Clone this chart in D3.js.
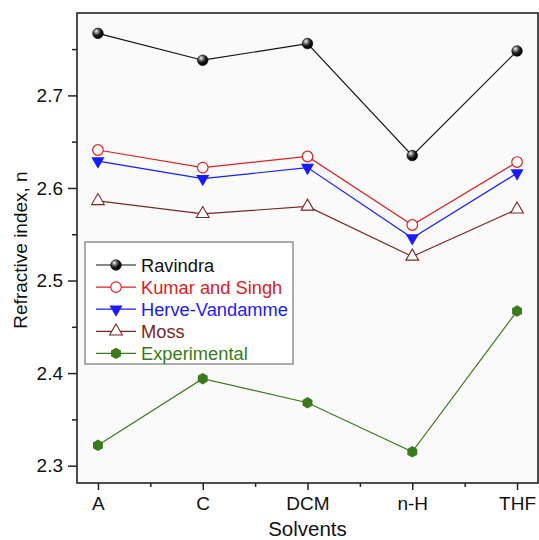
<!DOCTYPE html>
<html>
<head>
<meta charset="utf-8">
<script src="https://cdn.jsdelivr.net/npm/d3@7"></script>
<style>
  html, body { margin: 0; padding: 0; background: #fff; }
  svg { display: block; font-family: "Liberation Sans", Arial, sans-serif; }
</style>
</head>
<body>
<svg id="chart" width="539" height="540"></svg>
<script>
// Solvents on the x axis
const solvents = ["A", "C", "DCM", "n-H", "THF"];

// Refractive index estimated by each model, plus measured values
const ravindra     = [2.767, 2.738, 2.756, 2.635, 2.748];
const kumarSingh   = [2.641, 2.622, 2.634, 2.560, 2.628];
const herveVandamme = [2.629, 2.610, 2.622, 2.546, 2.616];
const moss         = [2.586, 2.572, 2.580, 2.526, 2.577];
const experimental = [2.322, 2.394, 2.368, 2.315, 2.467];

const yTicks = [2.3, 2.4, 2.5, 2.6, 2.7];
const yMinorTicks = [2.35, 2.45, 2.55, 2.65, 2.75];

const seriesNames = ["Ravindra", "Kumar and Singh", "Herve-Vandamme", "Moss", "Experimental"];
const seriesValues = [ravindra, kumarSingh, herveVandamme, moss, experimental];
const seriesColors = ["#111111", "#e02020", "#1a1aff", "#7a2626", "#3b7a1a"];
const seriesMarkers = ["ball", "openCircle", "downTriangle", "openTriangle", "hexagon"];

const svg = d3.select("#chart");
const plot = { left: 77, right: 538, top: 13, bottom: 483 };

const x = d3.scaleLinear().domain([-0.2, 4.2]).range([plot.left, plot.right]);
const y = d3.scaleLinear().domain([2.2813, 2.789]).range([plot.bottom, plot.top]);

// shaded sphere gradient
const defs = svg.append("defs");
const grad = defs.append("radialGradient").attr("id", "ball")
  .attr("cx", "0.35").attr("cy", "0.3").attr("r", "0.7");
grad.append("stop").attr("offset", "0").attr("stop-color", "#ffffff");
grad.append("stop").attr("offset", "0.25").attr("stop-color", "#8a8a8a");
grad.append("stop").attr("offset", "0.6").attr("stop-color", "#1a1a1a");
grad.append("stop").attr("offset", "1").attr("stop-color", "#000000");

// plot background
svg.append("rect")
  .attr("x", plot.left).attr("y", plot.top)
  .attr("width", plot.right - plot.left).attr("height", plot.bottom - plot.top)
  .attr("fill", "#fafafa");

const hexagon = {
  draw(ctx, size) {
    const r = Math.sqrt(size / (1.5 * Math.sqrt(3)));
    for (let i = 0; i < 6; i++) {
      const a = Math.PI / 3 * i - Math.PI / 2;
      const px = r * Math.cos(a), py = r * Math.sin(a);
      if (i === 0) ctx.moveTo(px, py); else ctx.lineTo(px, py);
    }
    ctx.closePath();
  }
};

function drawMarker(g, kind, color, cx, cy) {
  const t = `translate(${cx},${cy})`;
  if (kind === "ball") {
    g.append("circle").attr("cx", cx).attr("cy", cy).attr("r", 5.3)
      .attr("fill", "url(#ball)").attr("stroke", "#000").attr("stroke-width", 0.6);
  } else if (kind === "openCircle") {
    g.append("circle").attr("cx", cx).attr("cy", cy).attr("r", 5.3)
      .attr("fill", "#fff").attr("stroke", color).attr("stroke-width", 1.2);
  } else if (kind === "downTriangle") {
    g.append("path").attr("d", d3.symbol(d3.symbolTriangle, 75)())
      .attr("transform", t + " rotate(180)").attr("fill", color);
  } else if (kind === "openTriangle") {
    g.append("path").attr("d", d3.symbol(d3.symbolTriangle, 70)())
      .attr("transform", t).attr("fill", "#fff").attr("stroke", color).attr("stroke-width", 1.1);
  } else if (kind === "hexagon") {
    g.append("path").attr("d", d3.symbol(hexagon, 85)())
      .attr("transform", t).attr("fill", color);
  }
}

// series lines and markers
const line = d3.line().x((d, i) => x(i)).y(d => y(d));
seriesValues.forEach((vals, s) => {
  const g = svg.append("g");
  g.append("path").datum(vals).attr("d", line)
    .attr("fill", "none").attr("stroke", seriesColors[s]).attr("stroke-width", 1.2);
  vals.forEach((v, i) => drawMarker(g, seriesMarkers[s], seriesColors[s], x(i), y(v)));
});

// frame
svg.append("rect")
  .attr("x", plot.left).attr("y", plot.top)
  .attr("width", plot.right - plot.left).attr("height", plot.bottom - plot.top)
  .attr("fill", "none").attr("stroke", "#222").attr("stroke-width", 1.6);

// axes
const xAxis = d3.axisBottom(x).tickValues(d3.range(solvents.length))
  .tickFormat(i => solvents[i]).tickSize(7).tickSizeOuter(0).tickPadding(7);
const gx = svg.append("g").attr("transform", `translate(0,${plot.bottom})`).call(xAxis);
gx.select(".domain").remove();
gx.selectAll("text").attr("font-size", 19).attr("fill", "#111").attr("font-family", "Liberation Sans, Arial, sans-serif");
gx.selectAll("line").attr("stroke", "#222").attr("stroke-width", 1.5);

const xMinor = d3.axisBottom(x).tickValues([0.5, 1.5, 2.5, 3.5]).tickSize(4).tickFormat("");
const gxm = svg.append("g").attr("transform", `translate(0,${plot.bottom})`).call(xMinor);
gxm.select(".domain").remove();
gxm.selectAll("line").attr("stroke", "#222").attr("stroke-width", 1.5);

const yAxis = d3.axisLeft(y).tickValues(yTicks).tickFormat(d3.format(".1f"))
  .tickSize(9).tickPadding(5);
const gy = svg.append("g").attr("transform", `translate(${plot.left},0)`).call(yAxis);
gy.select(".domain").remove();
gy.selectAll("text").attr("font-size", 19).attr("fill", "#111").attr("font-family", "Liberation Sans, Arial, sans-serif");
gy.selectAll("line").attr("stroke", "#222").attr("stroke-width", 1.5);

const yMinor = d3.axisLeft(y).tickValues(yMinorTicks).tickSize(5).tickFormat("");
const gym = svg.append("g").attr("transform", `translate(${plot.left},0)`).call(yMinor);
gym.select(".domain").remove();
gym.selectAll("line").attr("stroke", "#222").attr("stroke-width", 1.5);

// axis titles
svg.append("text").attr("x", (plot.left + plot.right) / 2).attr("y", 536)
  .attr("text-anchor", "middle").attr("font-size", 20.5).attr("fill", "#111")
  .text("Solvents");
svg.append("text")
  .attr("transform", `translate(27,${(plot.top + plot.bottom) / 2 + 2}) rotate(-90)`)
  .attr("text-anchor", "middle").attr("font-size", 19).attr("fill", "#111")
  .text("Refractive index, n");

// legend
const legend = svg.append("g");
legend.append("rect").attr("x", 85).attr("y", 242).attr("width", 208).attr("height", 122)
  .attr("fill", "#fff").attr("stroke", "#777").attr("stroke-width", 1.2);
seriesNames.forEach((name, s) => {
  const ly = 265 + s * 22.1;
  legend.append("line").attr("x1", 96).attr("x2", 136).attr("y1", ly).attr("y2", ly)
    .attr("stroke", seriesColors[s]).attr("stroke-width", 1.2);
  drawMarker(legend, seriesMarkers[s], seriesColors[s], 116, ly);
  legend.append("text").attr("x", 141).attr("y", ly + 6.5)
    .attr("font-size", 18.3).attr("fill", seriesColors[s]).text(name);
});
</script>
</body>
</html>
